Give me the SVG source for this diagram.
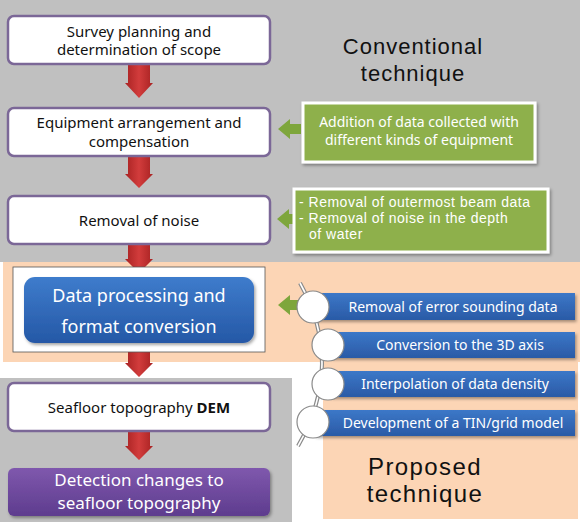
<svg xmlns="http://www.w3.org/2000/svg" width="584" height="531" viewBox="0 0 584 531">
<defs>
<style>
.t{font-family:"Noto Sans","Open Sans",sans-serif;}
.l{font-family:"Liberation Sans",Arial,sans-serif;}
.wb{fill:#ffffff;stroke:#7b6797;stroke-width:2.5;}
.bt{font-size:15px;fill:#111;text-anchor:middle;}
.gt{font-size:14px;fill:#ffffff;}
.lt{font-size:14px;fill:#ffffff;text-anchor:middle;}
.green{fill:#8eb04c;stroke:#ffffff;stroke-width:3;}
.circ{fill:#ffffff;stroke:#8a8a8a;stroke-width:1.2;}
</style>
<linearGradient id="blue" x1="0" y1="0" x2="0" y2="1">
<stop offset="0" stop-color="#3e7ccc"/><stop offset="1" stop-color="#2558a6"/>
</linearGradient>
<linearGradient id="bar" x1="0" y1="0" x2="0" y2="1">
<stop offset="0" stop-color="#3c78c8"/><stop offset="1" stop-color="#2a5aa6"/>
</linearGradient>
<linearGradient id="purple" x1="0" y1="0" x2="0" y2="1">
<stop offset="0" stop-color="#7f58ad"/><stop offset="1" stop-color="#5e3c8e"/>
</linearGradient>
<linearGradient id="red" x1="0" y1="0" x2="1" y2="0">
<stop offset="0" stop-color="#a82222"/><stop offset="0.5" stop-color="#d23c3c"/><stop offset="1" stop-color="#a82222"/>
</linearGradient>
<filter id="sh" x="-10%" y="-10%" width="130%" height="140%">
<feDropShadow dx="1.5" dy="2" stdDeviation="1.5" flood-color="#000" flood-opacity="0.35"/>
</filter>
</defs>

<!-- backgrounds -->
<rect x="0" y="0" width="584" height="531" fill="#ffffff"/>
<rect x="0" y="0" width="580" height="262" fill="#c0c0c0"/>
<rect x="3" y="262" width="577" height="100" fill="#fcd5b5"/>
<rect x="323" y="362" width="255" height="157" fill="#fcd5b5"/>
<rect x="0" y="378" width="292" height="144" fill="#c0c0c0"/>

<!-- connectors -->
<g id="connectors">
<g fill="url(#red)">
<path d="M128,65 H150 V83 H153 L139,98 L125,83 H128 Z"/>
<path d="M128,157 H150 V174 H153 L139,188 L125,174 H128 Z"/>
<path d="M128,245 H150 V259 H153 L139,273 L125,259 H128 Z"/>
<path d="M128,352 H150 V363 H153 L139,377 L125,363 H128 Z"/>
<path d="M128,431 H150 V446 H153 L139,460 L125,446 H128 Z"/>
</g>
<g fill="#7ea63c">
<path d="M301,124 H290 V119 L278,129 L290,139 V134 H301 Z"/>
<path d="M293,214 H289 V209 L277,219 L289,229 V224 H293 Z"/>
<path d="M299,300 H290 V295 L278,305 L290,315 V310 H299 Z"/>
</g>
<path d="M300,283 Q345,364 298,446" fill="none" stroke="#8a8a8a" stroke-width="4"/>
<path d="M300,283 Q345,364 298,446" fill="none" stroke="#ffffff" stroke-width="1.6"/>
</g>

<!-- conventional boxes -->
<g id="n1" class="t"><rect class="wb" x="8" y="16" width="262" height="48" rx="6"/>
<text class="bt" x="139" y="37">Survey planning and</text><text class="bt" x="139" y="55">determination of scope</text></g>
<g id="n2" class="t"><rect class="wb" x="8" y="108" width="262" height="48" rx="6"/>
<text class="bt" x="139" y="128">Equipment arrangement and</text><text class="bt" x="139" y="147">compensation</text></g>
<g id="n3" class="t"><rect class="wb" x="8" y="196" width="262" height="48" rx="6"/>
<text class="bt" x="139" y="226">Removal of noise</text></g>

<g id="g1" class="t"><rect class="green" x="303" y="103" width="232" height="59" filter="url(#sh)"/>
<text class="gt" x="419" y="127" text-anchor="middle">Addition of data collected with</text>
<text class="gt" x="419" y="145" text-anchor="middle">different kinds of equipment</text></g>
<g id="g2" class="l"><rect class="green" x="294" y="189" width="254" height="63" filter="url(#sh)"/>
<text class="gt" x="299" y="207" letter-spacing="0.5">- Removal of outermost beam data</text>
<text class="gt" x="299" y="223" letter-spacing="0.5">- Removal of noise in the depth</text>
<text class="gt" x="309" y="239" letter-spacing="0.5">of water</text></g>

<g id="lbl1" class="l"><text x="413" y="54" font-size="22" text-anchor="middle" fill="#111" letter-spacing="1">Conventional</text>
<text x="413" y="81" font-size="22" text-anchor="middle" fill="#111" letter-spacing="1">technique</text></g>

<!-- proposed -->
<g id="n4" class="t"><rect x="13" y="267" width="252" height="85" fill="#ffffff" stroke="#555" stroke-width="0.8"/>
<rect x="24" y="277" width="230" height="66" rx="11" fill="url(#blue)" filter="url(#sh)"/>
<text x="139" y="302" font-size="18" fill="#fff" text-anchor="middle">Data processing and</text>
<text x="139" y="333" font-size="18" fill="#fff" text-anchor="middle">format conversion</text></g>

<g id="b1" class="t"><rect x="315" y="293" width="260" height="27" fill="url(#bar)" filter="url(#sh)"/>
<circle class="circ" cx="313" cy="307" r="16"/>
<text class="lt" x="453" y="312">Removal of error sounding data</text></g>
<g id="b2" class="t"><rect x="330" y="332" width="245" height="26" fill="url(#bar)" filter="url(#sh)"/>
<circle class="circ" cx="328" cy="345" r="16"/>
<text class="lt" x="460" y="350">Conversion to the 3D axis</text></g>
<g id="b3" class="t"><rect x="330" y="371" width="245" height="26" fill="url(#bar)" filter="url(#sh)"/>
<circle class="circ" cx="328" cy="384" r="16"/>
<text class="lt" x="455" y="389">Interpolation of data density</text></g>
<g id="b4" class="t"><rect x="315" y="410" width="260" height="26" fill="url(#bar)" filter="url(#sh)"/>
<circle class="circ" cx="313" cy="422" r="16"/>
<text class="lt" x="453" y="428">Development of a TIN/grid model</text></g>

<g id="lbl2" class="l"><text x="425" y="475" font-size="24" text-anchor="middle" fill="#111" letter-spacing="1.4">Proposed</text>
<text x="425" y="502" font-size="24" text-anchor="middle" fill="#111" letter-spacing="1.4">technique</text></g>

<g id="n5" class="t"><rect class="wb" x="8" y="383" width="262" height="48" rx="6"/>
<text class="bt" x="139" y="413">Seafloor topography <tspan font-weight="bold">DEM</tspan></text></g>
<g id="n6" class="t"><rect x="8" y="468" width="262" height="48" rx="6" fill="url(#purple)" filter="url(#sh)"/>
<text x="139" y="486" font-size="17" fill="#fff" text-anchor="middle">Detection changes to</text>
<text x="139" y="509" font-size="17" fill="#fff" text-anchor="middle">seafloor topography</text></g>
</svg>
